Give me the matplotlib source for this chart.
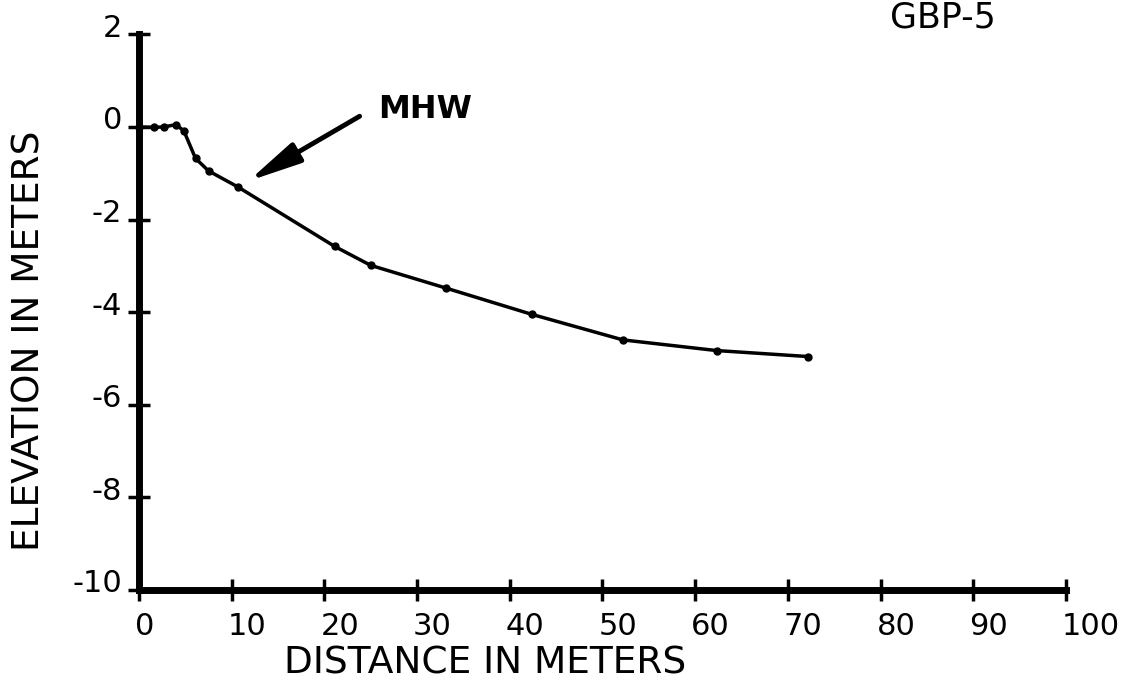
import matplotlib.pyplot as plt
import matplotlib.transforms as mtransforms

# profile GBP-5
distance = [0.0, 1.6, 2.7, 4.0, 4.85, 6.1, 7.5, 10.7, 21.1, 25.0, 33.1, 42.4, 52.2, 62.3, 72.2]
elevation = [0.0, -0.01, 0.0, 0.05, -0.09, -0.68, -0.95, -1.30, -2.58, -2.99, -3.48, -4.05, -4.60, -4.83, -4.96]

x_ticks = [0, 10, 20, 30, 40, 50, 60, 70, 80, 90, 100]
y_ticks = [-10, -8, -6, -4, -2, 0, 2]
y_tick_labels = ["-10", "-8", "-6", "-4", "-2", "0", "2"]

fig = plt.figure(figsize=(11.44, 6.82), dpi=100)
ax = fig.add_axes([0.1215, 0.135, 0.8103, 0.8147])

ax.plot(distance, elevation, color="black", lw=2.5, marker="o", ms=5, clip_on=False)

ax.set_xlim(0, 100)
ax.set_ylim(-10, 2)

for side in ["top", "right"]:
    ax.spines[side].set_visible(False)
for side in ["left", "bottom"]:
    ax.spines[side].set_linewidth(5)
    ax.spines[side].set_capstyle("projecting")

ax.set_xticks(x_ticks)
ax.set_xticklabels([str(t) for t in x_ticks], fontsize=22, ha="left")
ax.set_yticks(y_ticks)
ax.set_yticklabels(y_tick_labels, fontsize=22)
ax.tick_params(direction="inout", length=16, width=2.5, pad=4)
ax.tick_params(axis="x", pad=8)

# labels in the original sit a little right of / above their ticks
dx = mtransforms.ScaledTranslation(-4 / 100, 0, fig.dpi_scale_trans)
for lab in ax.get_xticklabels():
    lab.set_transform(lab.get_transform() + dx)
dy = mtransforms.ScaledTranslation(0, 9 / 100, fig.dpi_scale_trans)
for lab in ax.get_yticklabels():
    lab.set_transform(lab.get_transform() + dy)

fig.text(0.424, 0.012, "DISTANCE IN METERS", fontsize=27, ha="center", va="baseline")
fig.text(0.026, 0.50, "ELEVATION IN METERS", fontsize=27, rotation=90, ha="center", va="center")

# MHW marker
ax.annotate("", xy=(11.8, -1.17), xytext=(23.8, 0.23),
            arrowprops=dict(arrowstyle="-|>,head_length=1.6,head_width=0.33",
                            mutation_scale=20, lw=3.5, color="black",
                            shrinkA=0, shrinkB=0))
ax.text(25.8, 0.38, "MHW", fontsize=23, fontweight="bold", va="center", ha="left")

ax.text(81.0, 2.14, "GBP-5", fontsize=25, ha="left", va="baseline", clip_on=False)

fig.savefig("out.png", dpi=100)
